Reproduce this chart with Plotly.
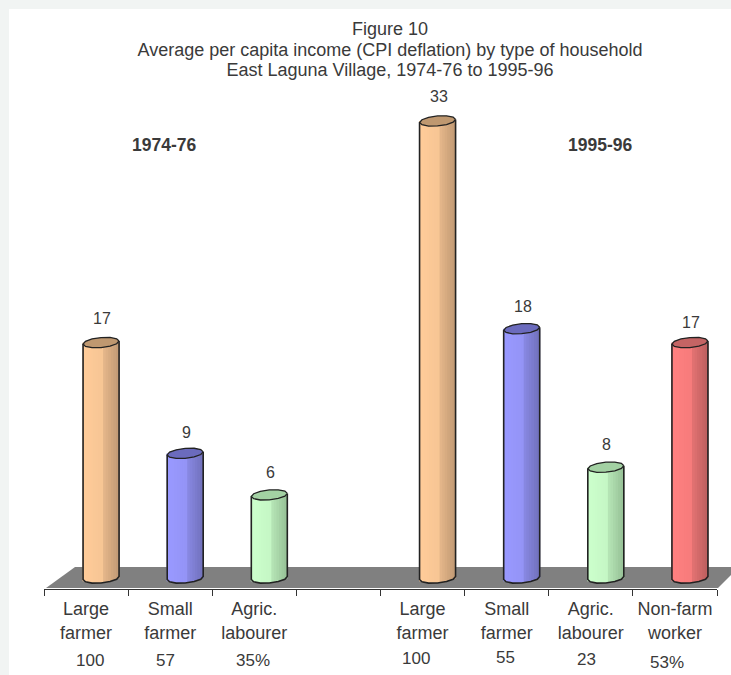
import math
import plotly.graph_objects as go

# ---- data ----
line1 = ["Large", "Small", "Agric.", "", "Large", "Small", "Agric.", "Non-farm"]
line2 = ["farmer", "farmer", "labourer", "", "farmer", "farmer", "labourer", "worker"]
shares = ["100", "57", "35%", "", "100", "55", "23", "53%"]
income = [17, 9, 6, None, 33, 18, 8, 17]
light = ["#ffcc99", "#9999ff", "#ccffcc", None, "#ffcc99", "#9999ff", "#ccffcc", "#ff8080"]
dark = ["#c49c76", "#7373bf", "#99c499", None, "#c49c76", "#7373bf", "#99c499", "#bf6060"]
cap = ["#bf9870", "#6b6bbd", "#a3d1a3", None, "#bf9870", "#6b6bbd", "#a3d1a3", "#c46464"]

# ---- geometry ----
W, H = 731, 675
L, R, T, B = 44, 717, 9, 589
PX_X = (R - L) / 8
PX_Y = 13.85
BAR_SHIFT = 15 / PX_X
RX, RY, TILT = 18 / PX_X, 5 / PX_Y, 1.5 / PX_Y
N_STRIPS = 14
STRIP = 2 * RX / N_STRIPS
TEXT = "#3a3a3a"
FONT = "Liberation Sans"
label_lift = [24, 21, 22, None, 24, 22, 23, 20]
share_px = [90, 165, 253, None, 416, 505, 586, 667]
share_py = [660, 660, 660, None, 658, 657, 659, 662]


def fx(px):
    return (px - L) / (R - L)


def fy(py):
    return 1 - (py - T) / (B - T)


def mix(a, b, t):
    ca = [int(a[i:i + 2], 16) for i in (1, 3, 5)]
    cb = [int(b[i:i + 2], 16) for i in (1, 3, 5)]
    return "#" + "".join(f"{round(p + (q - p) * t):02x}" for p, q in zip(ca, cb))


def shade(k):
    # light on the left, a step of shadow from about two thirds across
    t = k / (N_STRIPS - 1)
    return 0.15 * t / 0.6 if t < 0.6 else 0.45 + 0.55 * (t - 0.6) / 0.4


idx = [i for i, v in enumerate(income) if v is not None]
fig = go.Figure()

# cylinder bodies: vertical strips, each a bar from the curved foot up to the value
for k in range(N_STRIPS):
    u = -1 + (k + 0.5) * 2 / N_STRIPS
    foot = -RY * math.sqrt(1 - u * u) + TILT * u
    fig.add_bar(
        x=[i + BAR_SHIFT + u * RX for i in idx],
        y=[income[i] - foot for i in idx],
        base=[foot] * len(idx),
        width=STRIP * 1.4,
        marker=dict(color=[mix(light[i], dark[i], shade(k)) for i in idx], line_width=0),
        hoverinfo="skip",
    )

# outlines and tops
angles = [math.radians(a) for a in range(0, 361, 30)]
for i in idx:
    c, v = i + BAR_SHIFT, income[i]
    foot_a = [math.radians(a) for a in range(180, 361, 30)]
    ox = [c - RX] + [c + RX * math.cos(a) for a in foot_a] + [c + RX]
    oy = [v - TILT] + [RY * math.sin(a) + TILT * math.cos(a) for a in foot_a] + [v + TILT]
    fig.add_scatter(x=ox, y=oy, mode="lines", line=dict(color="#222222", width=1.6),
                    hoverinfo="skip")
    fig.add_scatter(
        x=[c + RX * math.cos(a) for a in angles],
        y=[v + RY * math.sin(a) + TILT * math.cos(a) for a in angles],
        mode="lines", fill="toself", fillcolor=cap[i],
        line=dict(color="#222222", width=1.3), hoverinfo="skip",
    )

annotations = []
for i in idx:
    annotations.append(dict(x=i + BAR_SHIFT, y=income[i], text=str(income[i]), showarrow=False,
                            xshift=1, yshift=label_lift[i], font=dict(size=16, color=TEXT, family=FONT)))

for s, px, py in zip(shares, share_px, share_py):
    if s:
        annotations.append(dict(xref="paper", yref="paper", x=fx(px), y=fy(py), text=s, showarrow=False,
                                xanchor="center", yanchor="middle",
                                font=dict(size=17, color=TEXT, family=FONT)))
for s, px in (("1974-76", 164), ("1995-96", 600)):
    annotations.append(dict(xref="paper", yref="paper", x=fx(px), y=fy(145), text=f"<b>{s}</b>",
                            showarrow=False, xanchor="center", yanchor="middle",
                            font=dict(size=17.5, color=TEXT, family=FONT)))

floor = [(46, 588), (75, 567), (731, 567), (731, 575), (718, 588)]
floor_path = "M " + " L ".join(f"{fx(x):.4f},{fy(y):.4f}" for x, y in floor) + " Z"

TICK_SP = "<span style='font-size:18px'>{}</span>"
ticktext = [TICK_SP.format(a) + "<br>" + TICK_SP.format(b) if a else "" for a, b in zip(line1, line2)]
SP = "<span style='font-size:18px'>{}</span>"
title_lines = ["Figure 10", "Average per capita income (CPI deflation) by type of household",
               "East Laguna Village, 1974-76 to 1995-96"]

fig.update_layout(
    width=W, height=H, autosize=False,
    margin=dict(l=L, r=W - R, t=T, b=H - B, pad=0),
    paper_bgcolor="#f1f4f3", plot_bgcolor="rgba(0,0,0,0)",
    showlegend=False, barmode="overlay",
    font=dict(family=FONT, color=TEXT),
    title=dict(
        text="<br>".join(SP.format(t) for t in title_lines),
        font=dict(size=15.8, color=TEXT, family=FONT),
        x=390 / W, xanchor="center", y=1 - 35 / H, yanchor="top",
    ),
    xaxis=dict(
        range=[-0.5, 7.5], showgrid=False, zeroline=False, showline=True, linecolor="#333333", linewidth=1,
        tickmode="array", tickvals=list(range(8)), ticktext=ticktext, ticks="",
        ticklabelstandoff=3,
        tickfont=dict(size=18.5, color=TEXT, family=FONT),
        minor=dict(tickmode="array", tickvals=[i - 0.5 for i in range(9)], ticks="outside",
                   ticklen=6, tickwidth=1, tickcolor="#333333", showgrid=False),
    ),
    yaxis=dict(range=[(578 - B) / PX_Y, (578 - T) / PX_Y], visible=False),
    shapes=[
        dict(type="rect", xref="paper", yref="paper", x0=fx(9), x1=fx(W + 5), y0=fy(H + 5), y1=fy(9),
             fillcolor="white", line_width=0, layer="below"),
        dict(type="path", xref="paper", yref="paper", path=floor_path, fillcolor="#808080",
             line_width=0, layer="below"),
    ],
    annotations=annotations,
)

fig.write_html("out.html", config={"displayModeBar": False},
               post_script="document.body.style.margin='0';")
